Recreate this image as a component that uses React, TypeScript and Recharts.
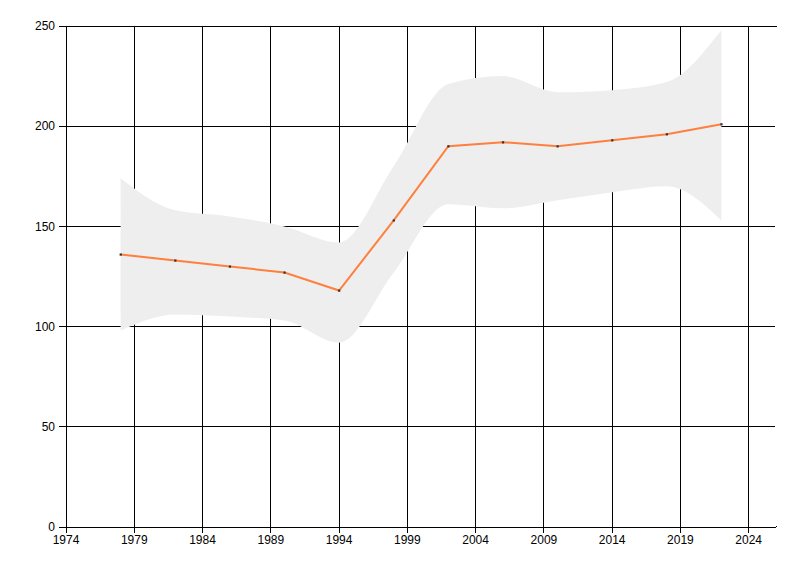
import { ComposedChart, Area, Line, XAxis, YAxis, CartesianGrid } from 'recharts';

// Survey years and the measured value with its uncertainty band
const years = [1978, 1982, 1986, 1990, 1994, 1998, 2002, 2006, 2010, 2014, 2018, 2022];
const values = [136, 133, 130, 127, 118, 153, 190, 192, 190, 193, 196, 201];
const lower = [98, 106, 105, 103, 92, 127, 161, 159, 163, 167, 170, 153];
const upper = [174, 158, 155, 150, 142, 180, 221, 225, 217, 218, 222, 248];

const xTicks = [1974, 1979, 1984, 1989, 1994, 1999, 2004, 2009, 2014, 2019, 2024];
const yTicks = [0, 50, 100, 150, 200, 250];

const data = years.map((year, i) => ({
  year,
  value: values[i],
  band: [lower[i], upper[i]],
}));

const tickStyle = { fill: '#000', fontSize: 12, fontFamily: 'Liberation Sans, Arial, sans-serif' };

function SmallDot(props: any) {
  const { cx, cy } = props;
  if (cx == null || cy == null) return null;
  return <rect x={cx - 1} y={cy - 1} width={2.2} height={2.2} fill="#333" />;
}

export default function App() {
  return (
    <div style={{ position: 'absolute', left: 0, top: 0, width: 800, height: 576, background: '#fff' }}>
      {/* crisp 1px lines */}
      <style>{`
        .recharts-cartesian-grid line,
        .recharts-cartesian-axis line { shape-rendering: crispEdges; }
        .recharts-cartesian-grid rect { stroke: none; }
      `}</style>
      <ComposedChart
        width={800}
        height={576}
        data={data}
        margin={{ top: 26, right: 24, bottom: 0, left: 0 }}
      >
        <CartesianGrid stroke="#000" strokeWidth={1} />
        <XAxis
          dataKey="year"
          type="number"
          domain={[1974, 2026]}
          ticks={xTicks}
          interval={0}
          height={49}
          tickSize={6}
          tickMargin={2}
          stroke="#000"
          tick={tickStyle}
          tickLine={{ stroke: '#000' }}
          axisLine={{ stroke: '#000' }}
        />
        <YAxis
          type="number"
          domain={[0, 250]}
          ticks={yTicks}
          interval={0}
          width={66}
          tickSize={7}
          tickMargin={4}
          stroke="#000"
          tick={tickStyle}
          tickLine={{ stroke: '#000' }}
          axisLine={{ stroke: '#000' }}
        />
        <Area
          dataKey="band"
          type="monotone"
          stroke="none"
          fill="#eeeeee"
          fillOpacity={1}
          isAnimationActive={false}
          activeDot={false}
        />
        <Line
          dataKey="value"
          type="linear"
          stroke="#ff7f3f"
          strokeWidth={2}
          dot={<SmallDot />}
          activeDot={false}
          isAnimationActive={false}
        />
      </ComposedChart>
      {/* the original plot has no border line on its right edge */}
      <div style={{ position: 'absolute', left: 775, top: 27, width: 3, height: 499, background: '#fff' }} />
    </div>
  );
}
